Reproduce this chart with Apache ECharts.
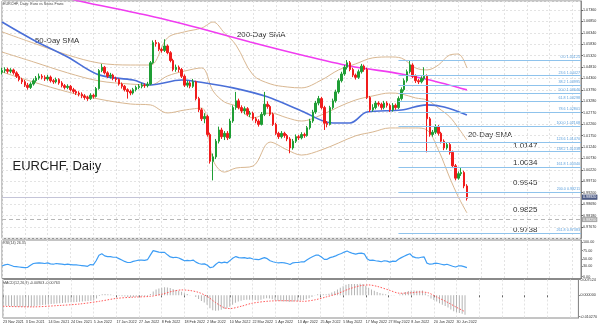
<!DOCTYPE html>
<html><head><meta charset="utf-8">
<script src="https://cdn.jsdelivr.net/npm/echarts@6/dist/echarts.min.js"></script>
<style>html,body{margin:0;padding:0;background:#fff}#c{width:600px;height:327px}</style>
</head><body><div id="c"></div>
<script>
// ---------- data ----------
const dateLabels = ['23 Nov 2021','3 Dec 2021','14 Dec 2021','24 Dec 2021','5 Jan 2022','17 Jan 2022','27 Jan 2022','8 Feb 2022','18 Feb 2022','2 Mar 2022','10 Mar 2022','22 Mar 2022','1 Apr 2022','13 Apr 2022','25 Apr 2022','5 May 2022','17 May 2022','27 May 2022','8 Jun 2022','20 Jun 2022','30 Jun 2022'];

const opens = [1.0458,1.0465,1.0470,1.0462,1.0468,1.0455,1.0440,1.0425,1.0415,1.0400,
1.0390,1.0405,1.0420,1.0432,1.0440,1.0435,1.0428,1.0436,1.0420,1.0415,
1.0425,1.0410,1.0398,1.0390,1.0395,1.0380,1.0372,1.0365,1.0360,1.0352,
1.0345,1.0340,1.0355,1.0350,1.0385,1.0465,1.0480,1.0455,1.0440,1.0445,
1.0430,1.0425,1.0405,1.0395,1.0380,1.0372,1.0365,1.0380,1.0390,1.0395,
1.0400,1.0398,1.0405,1.0500,1.0590,1.0585,1.0560,1.0555,1.0575,1.0545,
1.0510,1.0470,1.0480,1.0470,1.0440,1.0400,1.0410,1.0395,1.0415,1.0340,
1.0290,1.0250,1.0260,1.0180,1.0060,1.0080,1.0150,1.0200,1.0170,1.0185,
1.0165,1.0240,1.0300,1.0330,1.0300,1.0285,1.0295,1.0270,1.0275,1.0250,
1.0240,1.0225,1.0270,1.0315,1.0305,1.0270,1.0225,1.0185,1.0170,1.0185,
1.0175,1.0160,1.0120,1.0150,1.0170,1.0165,1.0180,1.0175,1.0210,1.0240,
1.0280,1.0320,1.0340,1.0300,1.0230,1.0225,1.0300,1.0330,1.0370,1.0420,
1.0450,1.0480,1.0500,1.0470,1.0445,1.0435,1.0460,1.0485,1.0470,1.0345,
1.0290,1.0300,1.0320,1.0315,1.0300,1.0320,1.0310,1.0290,1.0310,1.0300,
1.0340,1.0380,1.0420,1.0460,1.0490,1.0440,1.0420,1.0415,1.0430,1.0440,
1.0250,1.0180,1.0190,1.0215,1.0185,1.0150,1.0120,1.0135,1.0100,1.0040,
0.9985,1.0005,1.0010,0.9950];
const closes = [1.0465,1.0470,1.0462,1.0468,1.0455,1.0440,1.0425,1.0415,1.0400,1.0390,
1.0405,1.0420,1.0432,1.0440,1.0435,1.0428,1.0436,1.0420,1.0415,1.0425,
1.0410,1.0398,1.0390,1.0395,1.0380,1.0372,1.0365,1.0360,1.0352,1.0345,
1.0340,1.0355,1.0350,1.0385,1.0465,1.0480,1.0455,1.0440,1.0445,1.0430,
1.0425,1.0405,1.0395,1.0380,1.0372,1.0365,1.0380,1.0390,1.0395,1.0400,
1.0398,1.0405,1.0500,1.0590,1.0585,1.0560,1.0555,1.0575,1.0545,1.0510,
1.0470,1.0480,1.0470,1.0440,1.0400,1.0410,1.0395,1.0415,1.0340,1.0290,
1.0250,1.0260,1.0180,1.0060,1.0080,1.0150,1.0200,1.0170,1.0185,1.0165,
1.0240,1.0300,1.0330,1.0300,1.0285,1.0295,1.0270,1.0275,1.0250,1.0240,
1.0225,1.0270,1.0315,1.0305,1.0270,1.0225,1.0185,1.0170,1.0185,1.0175,
1.0160,1.0120,1.0150,1.0170,1.0165,1.0180,1.0175,1.0210,1.0240,1.0280,
1.0320,1.0340,1.0300,1.0230,1.0225,1.0300,1.0330,1.0370,1.0420,1.0450,
1.0480,1.0500,1.0470,1.0445,1.0435,1.0460,1.0485,1.0470,1.0345,1.0290,
1.0300,1.0320,1.0315,1.0300,1.0320,1.0310,1.0290,1.0310,1.0300,1.0340,
1.0380,1.0420,1.0460,1.0490,1.0440,1.0420,1.0415,1.0430,1.0440,1.0250,
1.0180,1.0190,1.0215,1.0185,1.0150,1.0120,1.0135,1.0100,1.0040,0.9985,
1.0005,1.0010,0.9950,0.9895];
const lows = [1.0448,1.0455,1.0452,1.0453,1.0447,1.0432,1.0417,1.0405,1.0392,1.0380,
1.0383,1.0398,1.0412,1.0424,1.0426,1.0419,1.0420,1.0412,1.0406,1.0408,
1.0402,1.0390,1.0381,1.0382,1.0372,1.0363,1.0356,1.0350,1.0342,1.0335,
1.0330,1.0334,1.0340,1.0345,1.0380,1.0458,1.0448,1.0432,1.0430,1.0422,
1.0415,1.0398,1.0385,1.0372,1.0340,1.0355,1.0358,1.0372,1.0382,1.0386,
1.0388,1.0390,1.0400,1.0495,1.0572,1.0552,1.0545,1.0548,1.0538,1.0502,
1.0462,1.0460,1.0458,1.0432,1.0392,1.0390,1.0386,1.0388,1.0332,1.0280,
1.0240,1.0230,1.0170,1.0050,0.9975,1.0070,1.0140,1.0160,1.0155,1.0155,
1.0160,1.0232,1.0290,1.0292,1.0275,1.0270,1.0262,1.0258,1.0242,1.0230,
1.0215,1.0220,1.0262,1.0295,1.0262,1.0218,1.0178,1.0160,1.0162,1.0165,
1.0150,1.0096,1.0112,1.0142,1.0155,1.0158,1.0165,1.0170,1.0202,1.0232,
1.0272,1.0310,1.0292,1.0200,1.0212,1.0220,1.0292,1.0322,1.0362,1.0412,
1.0442,1.0470,1.0462,1.0436,1.0425,1.0428,1.0452,1.0460,1.0338,1.0280,
1.0282,1.0292,1.0305,1.0290,1.0292,1.0300,1.0280,1.0282,1.0290,1.0294,
1.0332,1.0372,1.0412,1.0452,1.0432,1.0410,1.0405,1.0408,1.0420,1.0100,
1.0170,1.0170,1.0182,1.0175,1.0140,1.0110,1.0112,1.0090,1.0030,0.9975,
0.9978,0.9995,0.9940,0.9885];
const highs = [1.0478,1.0480,1.0478,1.0476,1.0474,1.0462,1.0450,1.0433,1.0423,1.0410,
1.0413,1.0430,1.0441,1.0452,1.0449,1.0444,1.0446,1.0443,1.0428,1.0434,
1.0431,1.0418,1.0405,1.0404,1.0401,1.0388,1.0380,1.0373,1.0368,1.0360,
1.0353,1.0364,1.0362,1.0392,1.0472,1.0495,1.0486,1.0462,1.0455,1.0451,
1.0438,1.0430,1.0412,1.0401,1.0386,1.0380,1.0388,1.0398,1.0405,1.0410,
1.0408,1.0415,1.0508,1.0600,1.0602,1.0592,1.0568,1.0605,1.0582,1.0552,
1.0518,1.0492,1.0488,1.0477,1.0448,1.0420,1.0418,1.0428,1.0420,1.0348,
1.0298,1.0275,1.0268,1.0188,1.0095,1.0160,1.0215,1.0210,1.0195,1.0195,
1.0250,1.0310,1.0370,1.0340,1.0310,1.0305,1.0302,1.0285,1.0282,1.0258,
1.0248,1.0280,1.0370,1.0328,1.0312,1.0278,1.0232,1.0192,1.0195,1.0192,
1.0182,1.0168,1.0160,1.0180,1.0178,1.0190,1.0188,1.0218,1.0250,1.0290,
1.0330,1.0352,1.0348,1.0308,1.0240,1.0308,1.0340,1.0380,1.0430,1.0460,
1.0490,1.0512,1.0508,1.0478,1.0452,1.0470,1.0495,1.0492,1.0478,1.0352,
1.0315,1.0330,1.0328,1.0322,1.0330,1.0328,1.0318,1.0320,1.0318,1.0350,
1.0390,1.0430,1.0470,1.0512,1.0498,1.0448,1.0428,1.0440,1.0480,1.0448,
1.0258,1.0200,1.0225,1.0222,1.0192,1.0158,1.0145,1.0142,1.0108,1.0048,
1.0015,1.0030,1.0018,0.9958];

// indicator lines: [bar index, value] read at points along each line
const sma200 = [[0,1.0856],[27,1.0776],[52,1.0709],[69,1.0655],[87,1.0593],[105,1.0535],[122,1.0486],[140,1.0450],[150,1.0423],[163,1.0379]];
const sma50 = [[0,1.0682],[11,1.0602],[23,1.0526],[34,1.0446],[46,1.0423],[52,1.0401],[63,1.0423],[69,1.0414],[81,1.0388],[93,1.0348],[105,1.0285],[116,1.0231],[122,1.0231],[128,1.0280],[140,1.0289],[149,1.0312],[155,1.0303],[163,1.0267]];
const bbUpper = [[0,1.0638],[11,1.0588],[23,1.0535],[34,1.0499],[45,1.0490],[52,1.0490],[58,1.0611],[64,1.0638],[70,1.0655],[74,1.0682],[78,1.0633],[82,1.0580],[88,1.0446],[94,1.0406],[100,1.0392],[105,1.0388],[112,1.0423],[118,1.0468],[124,1.0495],[130,1.0522],[136,1.0526],[140,1.0521],[145,1.0477],[149,1.0468],[153,1.0490],[157,1.0535],[160,1.0539],[163,1.0477]];
const bbMiddle = [[0,1.0548],[11,1.0504],[23,1.0455],[34,1.0419],[45,1.0405],[52,1.0401],[58,1.0441],[64,1.0463],[70,1.0477],[74,1.0374],[78,1.0325],[82,1.0307],[88,1.0254],[94,1.0276],[100,1.0254],[105,1.0240],[112,1.0267],[118,1.0303],[124,1.0334],[130,1.0352],[136,1.0365],[140,1.0361],[145,1.0343],[149,1.0334],[153,1.0298],[157,1.0258],[160,1.0209],[163,1.0155]];
const bbLower = [[0,1.0459],[11,1.0414],[23,1.0370],[34,1.0338],[45,1.0316],[52,1.0312],[58,1.0276],[64,1.0289],[70,1.0298],[74,1.0066],[78,1.0012],[82,1.0030],[88,1.0039],[94,1.0146],[100,1.0111],[105,1.0088],[112,1.0111],[118,1.0142],[124,1.0174],[130,1.0191],[136,1.0209],[140,1.0209],[145,1.0209],[149,1.0200],[153,1.0111],[157,0.9986],[160,0.9901],[163,0.9830]];

const fibStartIndex = 139;
const fibLevels = [1.05125,1.04427,1.03995,1.03646,1.03298,1.02801,1.02168,1.01470,1.01038,1.00340,0.99211,0.97383];
const fibLabels = ['0.0 1.05125','23.6 1.04427','38.2 1.03995','50.0 1.03646','61.8 1.03298','78.6 1.02801','100.0 1.02168','123.6 1.01470','138.2 1.01038','161.8 1.00340','200.0 0.99211','261.8 0.97383'];
const levelValues = [0.9948, 0.9825];
const levelLabels = ['0.99480', '0.98250'];
const lastPrice = 0.9892;
const lastPriceLabel = '0.98920';
const levelTexts = ['1.0147','1.0034','0.9945','0.9825','0.9738'];

const rsi = [31,34,36,33,30,29,28,27,26,27,
33,38,39,40,39,38,40,37,36,38,
37,36,35,36,35,34,34,33,32,31,
30,35,34,46,62,66,60,58,58,56,
56,52,48,44,41,41,44,46,48,48,
47,49,62,75,73,71,70,70,63,57,
55,56,54,50,46,47,46,48,42,38,
36,37,33,26,28,36,42,40,42,40,
47,54,58,55,54,55,53,54,51,50,
49,52,55,52,46,43,41,40,41,40,
38,35,40,41,41,43,43,49,54,58,
62,62,57,50,50,55,57,60,64,67,
71,74,70,67,65,67,68,66,52,47,
48,46,45,43,46,45,42,45,44,50,
55,59,63,66,58,55,54,56,57,39,
36,37,39,38,36,34,36,33,30,28,
31,31,29,26];
const rsiTicks = [0, 30, 50, 75, 100];

const macdHist = [-5.0,-5.1,-5.2,-5.3,-5.4,-5.5,-5.6,-5.6,-5.7,-5.6,
-5.5,-5.3,-5.1,-4.9,-4.7,-4.5,-4.3,-4.2,-4.1,-4.0,
-3.8,-3.7,-3.6,-3.5,-3.4,-3.3,-3.2,-3.1,-3.0,-2.9,
-2.8,-2.6,-2.4,-1.5,-0.3,0.5,0.6,0.5,0.4,0.2,
0.0,-0.2,-0.4,-0.6,-0.8,-0.9,-0.8,-0.7,-0.6,-0.5,
-0.4,-0.3,0.6,1.8,2.8,3.3,3.6,3.9,3.8,3.5,
3.0,2.6,2.2,1.7,1.0,0.6,0.2,0.0,-0.8,-1.8,
-2.8,-3.5,-4.6,-6.2,-7.2,-7.5,-7.3,-7.0,-6.6,-6.2,
-5.5,-4.6,-3.6,-3.0,-2.6,-2.3,-2.2,-2.1,-2.2,-2.3,
-2.5,-2.2,-1.7,-1.4,-1.5,-1.9,-2.4,-2.8,-2.9,-3.0,
-3.0,-3.2,-3.1,-2.9,-2.7,-2.5,-2.3,-1.9,-1.4,-0.8,
-0.1,0.5,0.6,0.5,0.5,0.8,1.3,2.0,2.8,3.6,
4.4,5.1,5.4,5.5,5.5,5.5,5.6,5.5,4.6,3.6,
2.8,2.2,1.6,1.1,0.8,0.5,0.2,0.1,-0.1,0.0,
0.4,1.0,1.6,2.1,2.3,2.3,2.2,2.2,2.3,1.0,
-0.5,-1.6,-2.3,-3.0,-3.8,-4.6,-5.2,-5.9,-6.8,-7.7,
-8.2,-8.5,-8.9,-9.4];
const macdSignal = [[0,-5.3],[10,-5.6],[20,-4.9],[27,-4.2],[34,-2.9],[40,-1.5],[46,-0.9],[52,-0.5],[56,0.5],[60,2.0],[63,2.6],[66,2.3],[69,1.4],[72,-0.5],[75,-3.5],[78,-6.0],[80,-6.4],[84,-5.3],[88,-3.8],[94,-2.8],[100,-2.6],[106,-2.9],[110,-2.2],[114,-0.8],[118,0.8],[122,3.0],[126,4.6],[129,5.0],[132,4.3],[136,2.6],[140,1.0],[144,1.2],[147,1.6],[150,1.2],[153,-0.8],[157,-3.5],[160,-5.8],[163,-7.9]];
const macdTicks = [-0.01027, 0, 0.007524];
const macdTickLabels = ['-0.010270', '0.000000', '0.007524'];

// ---------- chart ----------
const N = 204;
const cats = Array.from({length: N}, (_, i) => String(i));
const FONT = "'Liberation Sans', Arial, sans-serif";
const tiny = 3.7;
const candleData = closes.map((c, i) => [opens[i], c, lows[i], highs[i]]);
const scale = v => v / 1000;

const gridCommon = {show: true, borderColor: '#8a8a8a', borderWidth: 1, backgroundColor: '#fff'};
const grids = [
  Object.assign({left: 2, right: 19, top: 1, height: 237.4}, gridCommon),
  Object.assign({left: 2, right: 19, top: 240, height: 38.5}, gridCommon),
  Object.assign({left: 2, right: 19, top: 279.5, height: 38.5}, gridCommon)
];
const splitStyle = {show: true, interval: 7, lineStyle: {color: '#e3e3e3', type: [2, 2], width: 1}};
function xAx(gi, withLabels) {
  return {
    type: 'category', gridIndex: gi, data: cats, boundaryGap: false,
    axisLine: {show: false}, axisTick: {show: withLabels, interval: 7, length: 2, lineStyle: {color: '#666'}},
    axisLabel: withLabels ? {
      show: true, interval: 7, align: 'left', fontSize: tiny, color: '#333', fontFamily: FONT, margin: 2,
      showMaxLabel: false,
      formatter: (v) => { const i = Number(v); return i % 8 === 0 && dateLabels[i / 8] ? dateLabels[i / 8] : ''; }
    } : {show: false},
    splitLine: splitStyle
  };
}

const fibMarks = fibLevels.map((v, k) => [
  {coord: [fibStartIndex, v], label: {show: true, formatter: fibLabels[k], position: 'insideEndTop', distance: 1, fontSize: tiny, color: '#5a9fdc', fontFamily: FONT}},
  {coord: [N - 1, v]}
]);
const levelMarks = levelValues.map((v, k) => ({
  yAxis: v, lineStyle: {type: [4, 3], color: '#b8b8b8', width: 1},
  label: {show: true, position: 'end', distance: 1, formatter: levelLabels[k], fontSize: tiny, color: '#fff', backgroundColor: '#a8a8a8', padding: [0.5, 1], fontFamily: FONT}
}));
levelMarks.push({
  yAxis: lastPrice, lineStyle: {type: 'solid', color: '#c4c4d8', width: 1},
  label: {show: true, position: 'end', distance: 1, formatter: lastPriceLabel, fontSize: tiny, color: '#fff', backgroundColor: '#4d5b86', padding: [0.5, 1], fontFamily: FONT}
});

const option = {
  animation: false,
  backgroundColor: '#fff',
  grid: grids,
  xAxis: [xAx(0, false), xAx(1, false), xAx(2, true)],
  yAxis: [
    {type: 'value', gridIndex: 0, position: 'right', min: 0.9716, max: 1.07758, interval: 0.0051, scale: true,
     axisLine: {show: true, lineStyle: {color: '#8a8a8a'}}, axisTick: {show: true, length: 2, lineStyle: {color: '#666'}},
     axisLabel: {fontSize: tiny, color: '#333', fontFamily: FONT, margin: 2, showMinLabel: false, showMaxLabel: false, formatter: v => v.toFixed(5)},
     splitLine: {show: true, lineStyle: {color: '#e3e3e3', type: [2, 2]}}},
    {type: 'value', gridIndex: 1, position: 'right', min: -5.2, max: 105.8,
     axisLine: {show: true, lineStyle: {color: '#8a8a8a'}}, axisTick: {show: true, length: 2, customValues: rsiTicks},
     axisLabel: {fontSize: tiny, color: '#333', fontFamily: FONT, margin: 2, customValues: rsiTicks, formatter: v => v.toFixed(2)},
     splitLine: {show: false}},
    {type: 'value', gridIndex: 2, position: 'right', min: -0.01095, max: 0.00762,
     axisLine: {show: true, lineStyle: {color: '#8a8a8a'}}, axisTick: {show: true, length: 2, customValues: macdTicks},
     axisLabel: {fontSize: tiny, color: '#333', fontFamily: FONT, margin: 2, customValues: macdTicks,
       formatter: v => { const k = macdTicks.findIndex(t => Math.abs(t - v) < 1e-7); return k >= 0 ? macdTickLabels[k] : ''; }},
     splitLine: {show: false}}
  ],
  series: [
    {type: 'line', xAxisIndex: 0, yAxisIndex: 0, data: bbUpper, smooth: 0.35, symbol: 'none', lineStyle: {color: '#d9b791', width: 1}, z: 2},
    {type: 'line', xAxisIndex: 0, yAxisIndex: 0, data: bbMiddle, smooth: 0.35, symbol: 'none', lineStyle: {color: '#d9b791', width: 1}, z: 2},
    {type: 'line', xAxisIndex: 0, yAxisIndex: 0, data: bbLower, smooth: 0.35, symbol: 'none', lineStyle: {color: '#d9b791', width: 1}, z: 2},
    {type: 'line', xAxisIndex: 0, yAxisIndex: 0, data: sma200, smooth: 0.3, symbol: 'none', lineStyle: {color: '#f03cf0', width: 1.6}, z: 3},
    {type: 'line', xAxisIndex: 0, yAxisIndex: 0, data: sma50, smooth: 0.35, symbol: 'none', lineStyle: {color: '#4a6fd8', width: 1.6}, z: 3},
    {type: 'candlestick', xAxisIndex: 0, yAxisIndex: 0, data: candleData, barWidth: 2, z: 4,
     itemStyle: {color: '#1f9e35', color0: '#f01c1c', borderColor: '#1f9e35', borderColor0: '#f01c1c', borderWidth: 1},
     markLine: {silent: true, symbol: ['none', 'none'], animation: false, data: levelMarks.concat(fibMarks),
       lineStyle: {color: '#8fc3ec', width: 1.2, type: 'solid'}}},
    {type: 'line', xAxisIndex: 1, yAxisIndex: 1, data: rsi, symbol: 'none', lineStyle: {color: '#3d9df5', width: 1.2}},
    {type: 'bar', xAxisIndex: 2, yAxisIndex: 2, data: macdHist.map(scale), barWidth: 1, itemStyle: {color: '#b4b4b4'}},
    {type: 'line', xAxisIndex: 2, yAxisIndex: 2, data: macdSignal.map(p => [p[0], scale(p[1])]), smooth: 0.3, symbol: 'none', lineStyle: {color: '#ff5a5a', width: 1, type: [1.5, 1.5]}}
  ],
  graphic: [
    {type: 'text', left: 3, top: 2, style: {text: 'EURCHF, Daily: Euro vs Swiss Franc', fontSize: tiny, fill: '#444', fontFamily: FONT}},
    {type: 'text', left: 3, top: 241, style: {text: 'RSI(14) 26.35', fontSize: tiny, fill: '#444', fontFamily: FONT}},
    {type: 'text', left: 3, top: 281, style: {text: 'MACD(12,26,9) -0.00903 -0.00763', fontSize: tiny, fill: '#444', fontFamily: FONT}},
    {type: 'text', x: 35, y: 40.5, style: {text: '50-Day SMA', fontSize: 7.8, fill: '#333', fontFamily: FONT, verticalAlign: 'middle'}},
    {type: 'text', x: 237, y: 35, style: {text: '200-Day SMA', fontSize: 7.8, fill: '#333', fontFamily: FONT, verticalAlign: 'middle'}},
    {type: 'text', x: 468, y: 135, style: {text: '20-Day SMA', fontSize: 7.8, fill: '#333', fontFamily: FONT, verticalAlign: 'middle'}},
    {type: 'text', x: 12.5, y: 166, style: {text: 'EURCHF, Daily', fontSize: 13, fill: '#222', fontFamily: FONT, verticalAlign: 'middle'}},
    {type: 'text', x: 513, y: 146, style: {text: levelTexts[0], fontSize: 8, fill: '#333', fontFamily: FONT, verticalAlign: 'middle'}},
    {type: 'text', x: 513, y: 162.5, style: {text: levelTexts[1], fontSize: 8, fill: '#333', fontFamily: FONT, verticalAlign: 'middle'}},
    {type: 'text', x: 513, y: 182.5, style: {text: levelTexts[2], fontSize: 8, fill: '#333', fontFamily: FONT, verticalAlign: 'middle'}},
    {type: 'text', x: 513, y: 209.5, style: {text: levelTexts[3], fontSize: 8, fill: '#333', fontFamily: FONT, verticalAlign: 'middle'}},
    {type: 'text', x: 513, y: 229.5, style: {text: levelTexts[4], fontSize: 8, fill: '#333', fontFamily: FONT, verticalAlign: 'middle'}}
  ]
};
const chart = echarts.init(document.getElementById('c'));
chart.setOption(option);
</script>
</body></html>
